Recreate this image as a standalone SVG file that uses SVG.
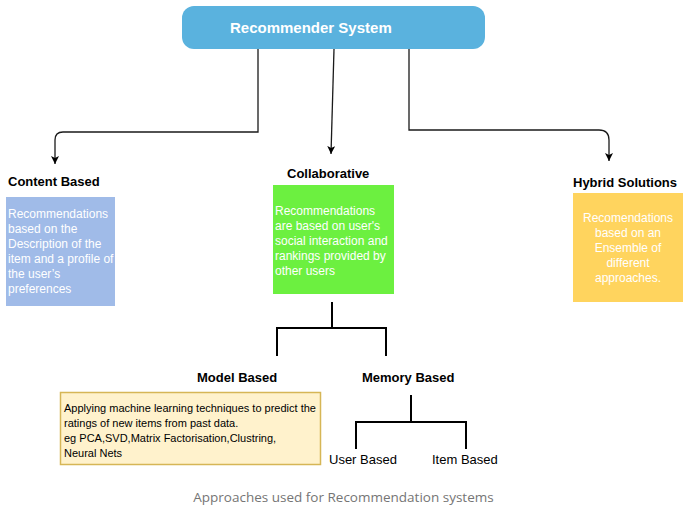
<svg xmlns="http://www.w3.org/2000/svg" width="695" height="513" viewBox="0 0 695 513">
<style>
.lbl{font-family:"Liberation Sans",Arial,sans-serif;font-weight:bold;font-size:13px;fill:#000}
.wt{font-family:"Liberation Sans",Arial,sans-serif;font-size:12px;fill:#fff}
.bt{font-family:"Liberation Sans",Arial,sans-serif;font-size:11px;fill:#000}
.pl{font-family:"Liberation Sans",Arial,sans-serif;font-size:13px;fill:#000}
.conn{fill:none;stroke:#1a1a1a;stroke-width:1.3}
.br{fill:none;stroke:#000;stroke-width:2}
</style>
<defs>
<marker id="arr" markerUnits="userSpaceOnUse" markerWidth="10" markerHeight="10" refX="8" refY="4" orient="auto" viewBox="0 0 10 10">
<path d="M0,0 L8,4 L0,8 L2,4 Z" fill="#000"/>
</marker>
</defs>
<rect width="695" height="513" fill="#fff"/>

<g id="connectors">
<path class="conn" d="M258,49 V132 H63 Q55,132 55,140 V164" marker-end="url(#arr)"/>
<path class="conn" d="M334,49 L331,154" marker-end="url(#arr)"/>
<path class="conn" d="M409,49 V130 H599 Q609,130 609,140 V161" stroke="#444" marker-end="url(#arr)"/>
<path class="br" d="M332,302 V328 M277,356 V328 H386 V356"/>
<path class="br" d="M411,395 V422 M356,449 V422 H466 V449"/>
</g>

<g id="recommender-system">
<rect x="182" y="6" width="303" height="43" rx="12" fill="#5AB2DE"/>
<text x="230" y="33" font-family="'Liberation Sans',Arial,sans-serif" font-weight="bold" font-size="15" fill="#fff">Recommender System</text>
</g>

<g id="content-based">
<text class="lbl" x="8" y="186">Content Based</text>
<rect x="6" y="197" width="109" height="109" fill="#A0BBE8"/>
<text class="wt" x="8" y="218">Recommendations</text>
<text class="wt" x="8" y="233">based on the</text>
<text class="wt" x="8" y="248">Description of the</text>
<text class="wt" x="8" y="263">item and a profile of</text>
<text class="wt" x="8" y="278">the user’s</text>
<text class="wt" x="8" y="293">preferences</text>
</g>

<g id="collaborative">
<text class="lbl" x="287" y="178">Collaborative</text>
<rect x="273" y="185" width="121" height="109" fill="#6CF040"/>
<text class="wt" x="275" y="215">Recommendations</text>
<text class="wt" x="275" y="230">are based on user's</text>
<text class="wt" x="275" y="245">social interaction and</text>
<text class="wt" x="275" y="260">rankings provided by</text>
<text class="wt" x="275" y="275">other users</text>
</g>

<g id="hybrid-solutions">
<text class="lbl" x="573" y="187" font-size="12">Hybrid Solutions</text>
<rect x="573" y="193" width="110" height="109" fill="#FFD45E"/>
<text class="wt" x="628" y="222" text-anchor="middle">Recomendations</text>
<text class="wt" x="628" y="237" text-anchor="middle">based on an</text>
<text class="wt" x="628" y="252" text-anchor="middle">Ensemble of</text>
<text class="wt" x="628" y="267" text-anchor="middle">different</text>
<text class="wt" x="628" y="282" text-anchor="middle">approaches.</text>
</g>

<g id="model-based">
<text class="lbl" x="197" y="382">Model Based</text>
<rect x="60.5" y="392.5" width="260" height="72" fill="#FFF2CC" stroke="#D6B656" stroke-width="1.5"/>
<text class="bt" x="64" y="412">Applying machine learning techniques to predict the</text>
<text class="bt" x="64" y="427">ratings of new items from past data.</text>
<text class="bt" x="64" y="442">eg PCA,SVD,Matrix Factorisation,Clustring,</text>
<text class="bt" x="64" y="457">Neural Nets</text>
</g>

<g id="memory-based">
<text class="lbl" x="362" y="382">Memory Based</text>
</g>

<g id="user-based">
<text class="pl" x="329" y="464">User Based</text>
</g>

<g id="item-based">
<text class="pl" x="432" y="464">Item Based</text>
</g>

<text x="343.5" y="502" text-anchor="middle" font-family="'Open Sans','Noto Sans',sans-serif" font-size="13.5" fill="#757575">Approaches used for Recommendation systems</text>
</svg>
